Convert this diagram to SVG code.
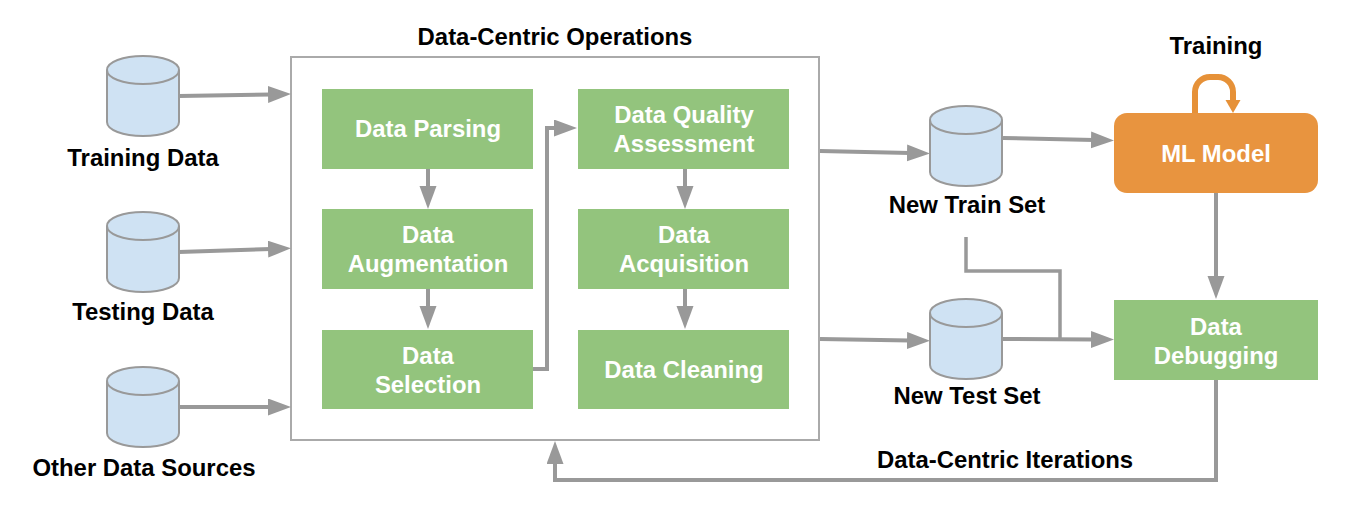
<svg xmlns="http://www.w3.org/2000/svg" width="1362" height="530" viewBox="0 0 1362 530">
<style>
text{font-family:"Liberation Sans",Arial,sans-serif;font-weight:700;font-size:23.9px;text-anchor:middle}
.k{fill:#000}
.w{fill:#fff}
.g{fill:#93c47d}
.c{fill:#cfe2f3;stroke:#999;stroke-width:2}
.cn{fill:none;stroke:#999;stroke-width:4}
</style>
<defs>
<marker id="a" markerUnits="userSpaceOnUse" markerWidth="24" markerHeight="18" refX="3" refY="8.5" orient="auto"><path d="M0 0L23 8.5L0 17Z" fill="#999"/></marker>
<marker id="o" markerUnits="userSpaceOnUse" markerWidth="17" markerHeight="16" refX="2" refY="7.5" orient="auto"><path d="M0 0L13 7.5L0 15Z" fill="#e69138"/></marker>
<g id="cyl"><path class="c" d="M-36 -26V26C-36 34 -20 40 0 40C20 40 36 34 36 26V-26C36 -34 20 -40 0 -40C-20 -40 -36 -34 -36 -26C-36 -18 -20 -12 0 -12C20 -12 36 -18 36 -26"/></g>
</defs>
<rect id="ops" x="291" y="57" width="528" height="383" fill="#fff" stroke="#aaa" stroke-width="2"/>
<text class="k" x="555" y="44.7">Data-Centric Operations</text>
<g id="connectors" class="cn">
<path d="M179 96L271 94.4" marker-end="url(#a)"/>
<path d="M179 252L271 249" marker-end="url(#a)"/>
<path d="M179 407L271 407" marker-end="url(#a)"/>
<path d="M428 169V189" marker-end="url(#a)"/>
<path d="M428 289V309" marker-end="url(#a)"/>
<path d="M533 369H547V128H557" marker-end="url(#a)"/>
<path d="M685 169V189" marker-end="url(#a)"/>
<path d="M685 289V309" marker-end="url(#a)"/>
<path d="M820 151L910 153" marker-end="url(#a)"/>
<path d="M820 339L910 340.5" marker-end="url(#a)"/>
<path d="M1003 138L1094 140" marker-end="url(#a)"/>
<path d="M1003 339L1094 339.5" marker-end="url(#a)"/>
<path d="M966 237V271H1060V338" stroke-width="3.5"/>
<path d="M1216 193V279" marker-end="url(#a)"/>
<path d="M1216 380V480H555V461" marker-end="url(#a)"/>
<path d="M1195 113V92A15 15 0 0 1 1210 77H1218A15 15 0 0 1 1233 92V102" stroke="#e69138" stroke-width="6" marker-end="url(#o)"/>
</g>
<g id="training-data"><use href="#cyl" x="143" y="96"/><text class="k" x="143" y="165.7">Training Data</text></g>
<g id="testing-data"><use href="#cyl" x="143" y="252"/><text class="k" x="143" y="319.7">Testing Data</text></g>
<g id="other-data"><use href="#cyl" x="143" y="407"/><text class="k" x="144" y="475.7">Other Data Sources</text></g>
<g id="parsing"><rect class="g" x="322" y="89" width="211" height="80"/><text class="w" x="428" y="136.7">Data Parsing</text></g>
<g id="augmentation"><rect class="g" x="322" y="209" width="211" height="80"/><text class="w" x="428" y="242.7">Data</text><text class="w" x="428" y="271.7">Augmentation</text></g>
<g id="selection"><rect class="g" x="322" y="330" width="211" height="79"/><text class="w" x="428" y="363.7">Data</text><text class="w" x="428" y="392.7">Selection</text></g>
<g id="quality"><rect class="g" x="578" y="89" width="211" height="80"/><text class="w" x="684" y="122.7">Data Quality</text><text class="w" x="684" y="151.7">Assessment</text></g>
<g id="acquisition"><rect class="g" x="578" y="209" width="211" height="80"/><text class="w" x="684" y="242.7">Data</text><text class="w" x="684" y="271.7">Acquisition</text></g>
<g id="cleaning"><rect class="g" x="578" y="330" width="211" height="79"/><text class="w" x="684" y="377.7">Data Cleaning</text></g>
<g id="train-set"><use href="#cyl" x="966" y="146"/><text class="k" x="967" y="213">New Train Set</text></g>
<g id="test-set"><use href="#cyl" x="966" y="339"/><text class="k" x="967" y="404">New Test Set</text></g>
<g id="model"><rect x="1114" y="113" width="204" height="80" rx="13" fill="#e8943f"/><text class="w" x="1216" y="161.7">ML Model</text></g>
<text class="k" x="1216" y="54">Training</text>
<g id="debugging"><rect class="g" x="1114" y="300" width="204" height="80"/><text class="w" x="1216" y="334.7">Data</text><text class="w" x="1216" y="363.7">Debugging</text></g>
<text class="k" x="1005" y="467.7">Data-Centric Iterations</text>
</svg>
